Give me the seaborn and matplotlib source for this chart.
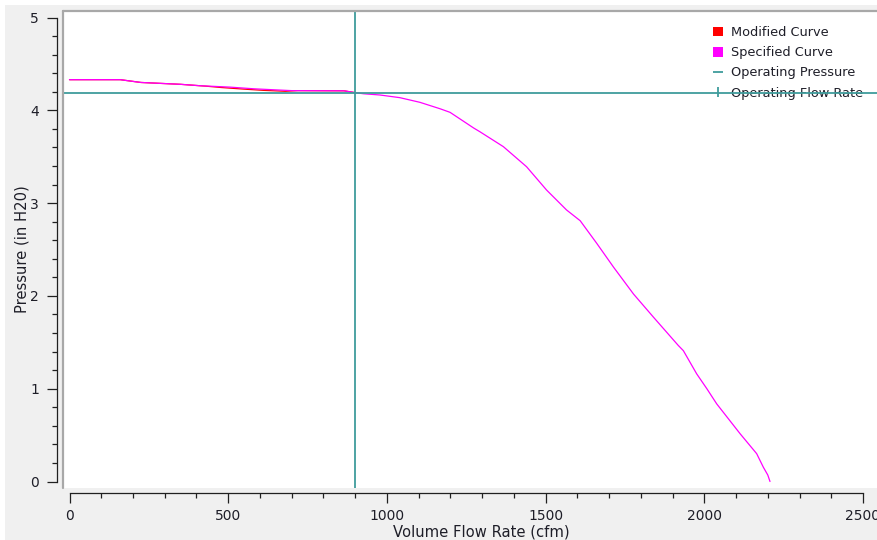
import numpy as np
import pandas as pd
import matplotlib
matplotlib.use("Agg")
import matplotlib.pyplot as plt
import seaborn as sns
from matplotlib.patches import Patch, Rectangle
from matplotlib.lines import Line2D
from matplotlib.ticker import MultipleLocator

# Fan curve data (cfm vs. in H2O)
spec_flow = [0, 160, 225, 350, 410, 505, 580, 650, 700, 865, 900, 927, 978, 1041,
             1104, 1168, 1199, 1273, 1293, 1367, 1440, 1503, 1566, 1609, 1661, 1714,
             1777, 1840, 1918, 1934, 1976, 2008, 2039, 2113, 2165, 2186, 2200, 2207]
spec_pressure = [4.33, 4.33, 4.30, 4.28, 4.265, 4.25, 4.232, 4.22, 4.212, 4.21, 4.19,
                 4.178, 4.165, 4.136, 4.086, 4.016, 3.978, 3.81, 3.769, 3.608, 3.392,
                 3.141, 2.926, 2.81, 2.567, 2.31, 2.02, 1.77, 1.466, 1.41, 1.16, 1.0,
                 0.837, 0.514, 0.30, 0.154, 0.07, 0.0]

mod_flow = [0, 160, 225, 350, 430, 480, 550, 610, 680, 720, 865, 900]
mod_pressure = [4.33, 4.33, 4.30, 4.28, 4.26, 4.245, 4.228, 4.215, 4.205, 4.212, 4.21, 4.19]

op_flow = 900
op_pressure = 4.19

legend_labels = ["Modified Curve", "Specified Curve", "Operating Pressure", "Operating Flow Rate"]

W, H, DPI = 878, 540, 100
TEAL = "#3f9c9c"
GREY_BG = "#f0f0f0"
TXT = "#1e1e28"

sns.set_theme(style="white")
plt.rcParams["font.family"] = ["DejaVu Sans"]

fig = plt.figure(figsize=(W / DPI, H / DPI), dpi=DPI, facecolor="white")
fig.patches.append(Rectangle((5 / W, 0), 1, (H - 5) / H, transform=fig.transFigure,
                             facecolor=GREY_BG, edgecolor="none", zorder=-10))

def px_rect(x0, y0, x1, y1):
    return [x0 / W, 1 - y1 / H, (x1 - x0) / W, (y1 - y0) / H]

# pixel calibration of the value axes
X0, X1 = 69.5, 863.0      # 0 and 2500 cfm
Y0, Y5 = 481.5, 17.5      # 0 and 5 in H2O
sx = (X1 - X0) / 2500
sy = (Y0 - Y5) / 5

ax_l, ax_t, ax_r, ax_b = 63, 11, 900, 488
ax = fig.add_axes(px_rect(ax_l, ax_t, ax_r, ax_b))
ax.set_facecolor("white")
ax.set_xlim((ax_l - X0) / sx, (ax_r - X0) / sx)
ax.set_ylim((Y0 - ax_b) / sy, (Y0 - ax_t) / sy)

spec_df = pd.DataFrame({"flow": spec_flow, "pressure": spec_pressure})
mod_df = pd.DataFrame({"flow": mod_flow, "pressure": mod_pressure})

sns.lineplot(data=mod_df, x="flow", y="pressure", ax=ax, color="#ff0000",
             linewidth=0.9, sort=False, estimator=None, zorder=2)
sns.lineplot(data=spec_df, x="flow", y="pressure", ax=ax, color="#ff00ff",
             linewidth=0.9, sort=False, estimator=None, zorder=2.5)

ax.axhline(op_pressure, color=TEAL, linewidth=1.3, zorder=3)
ax.axvline(op_flow, color=TEAL, linewidth=1.3, zorder=3)

# frame edge of the plot panel
ax.add_line(Line2D([0, 0], [0, 1], transform=ax.transAxes, color="#a8a8a8",
                   linewidth=1.6, clip_on=False, zorder=4))
ax.add_line(Line2D([0, 1], [1, 1], transform=ax.transAxes, color="#a8a8a8",
                   linewidth=1.6, clip_on=False, zorder=4))

# detached axes
for side in ("top", "right"):
    ax.spines[side].set_visible(False)
ax.spines["left"].set_position(("outward", (ax_l - 57.5) * 0.72))
ax.spines["bottom"].set_position(("outward", (492.5 - ax_b) * 0.72))
ax.spines["left"].set_bounds(0, 5)
ax.spines["bottom"].set_bounds(0, 2500)
for side in ("left", "bottom"):
    ax.spines[side].set_color("#202020")
    ax.spines[side].set_linewidth(0.9)

ax.xaxis.set_major_locator(MultipleLocator(500))
ax.xaxis.set_minor_locator(MultipleLocator(100))
ax.yaxis.set_major_locator(MultipleLocator(1))
ax.yaxis.set_minor_locator(MultipleLocator(0.2))
ax.tick_params(which="both", direction="out", color="#202020", width=0.9,
               bottom=True, left=True, top=False, right=False)
ax.tick_params(which="major", length=7.2, labelsize=10, labelcolor=TXT)
ax.tick_params(which="minor", length=3.6)
ax.tick_params(axis="y", which="major", pad=6)
ax.tick_params(axis="x", which="major", pad=5)
ax.grid(False)

ax.set_xlabel("Volume Flow Rate (cfm)", fontsize=10.6, color=TXT, labelpad=1)
ax.set_ylabel("Pressure (in H20)", fontsize=10.6, color=TXT, labelpad=0.5)

handles = [
    Patch(facecolor="#ff0000", edgecolor="none"),
    Patch(facecolor="#ff00ff", edgecolor="none"),
    Line2D([], [], linestyle="none", marker="_", markersize=7.5, markeredgewidth=1.3, color=TEAL),
    Line2D([], [], linestyle="none", marker="|", markersize=7.5, markeredgewidth=1.3, color=TEAL),
]
leg = ax.legend(handles, legend_labels, loc="upper left",
                bbox_to_anchor=(713 / W, 1 - 26 / H), bbox_transform=fig.transFigure,
                frameon=False, fontsize=9.3, handlelength=0.8, handleheight=0.8,
                handletextpad=0.6, labelspacing=0.56, borderpad=0, borderaxespad=0,
                numpoints=1)
for t in leg.get_texts():
    t.set_color(TXT)
leg.set_zorder(1)

fig.savefig("out.png", dpi=DPI, facecolor=fig.get_facecolor())
